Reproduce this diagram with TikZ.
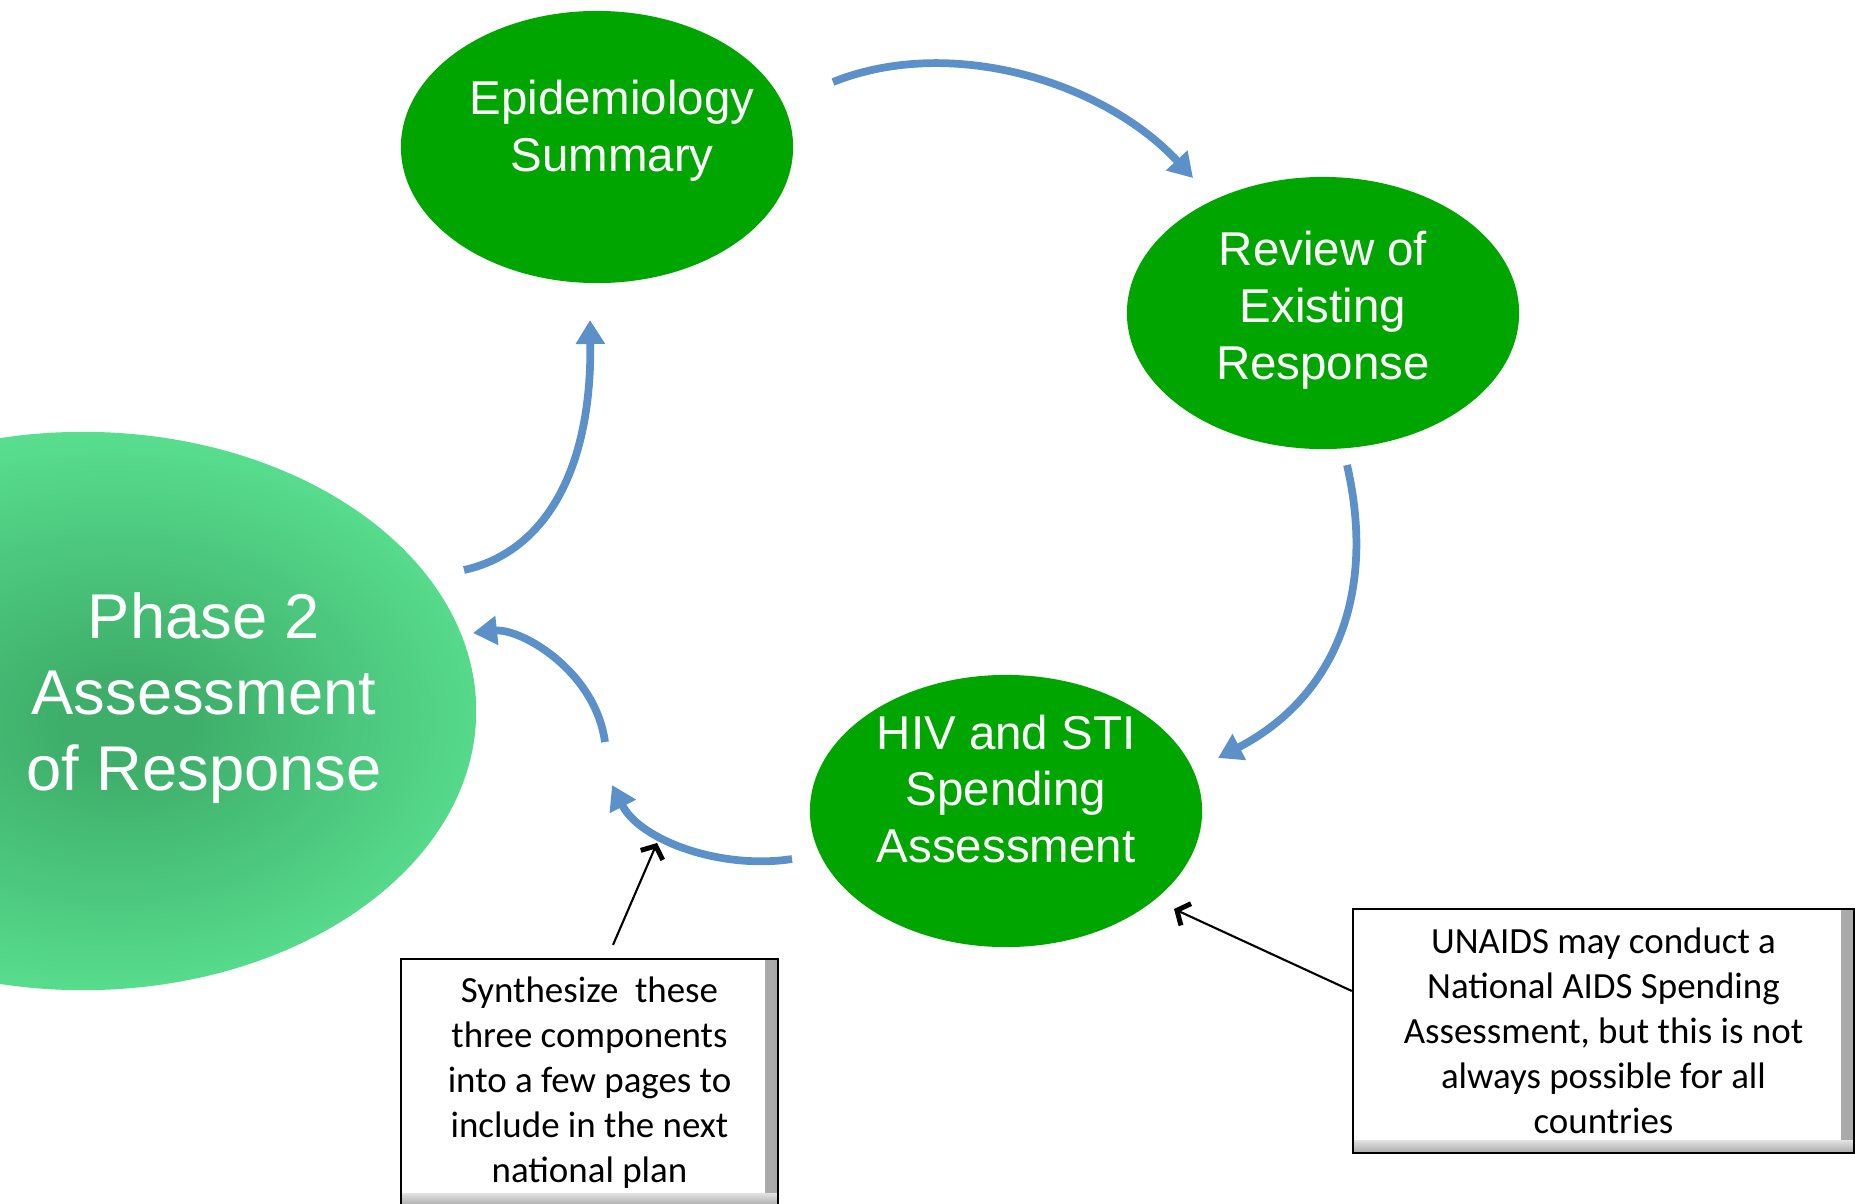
\documentclass[tikz,border=0pt]{standalone}
\usepackage{fontspec}
\setmainfont{Liberation Sans}
\newfontfamily\notefont{Carlito}
\usepackage{tikz}
\usetikzlibrary{shapes, arrows.meta, positioning}

\definecolor{stepgreen}{RGB}{0,165,0}
\definecolor{flowblue}{RGB}{91,144,200}
\definecolor{phlight}{RGB}{94,232,150}
\definecolor{phdark}{RGB}{62,174,106}
\definecolor{boxshade}{RGB}{140,140,140}
\pgfdeclareradialshading{phaseglow}{\pgfpoint{3bp}{-1bp}}{color(0bp)=(phdark); color(4bp)=(phdark); color(30bp)=(phlight); color(50bp)=(phlight)}
\pgfdeclarehorizontalshading{sideshade}{100bp}{color(0bp)=(white); color(100bp)=(boxshade)}
\pgfdeclareverticalshading{baseshade}{100bp}{color(0bp)=(boxshade); color(100bp)=(white)}

\begin{document}
\begin{tikzpicture}[x=0.01cm, y=-0.01cm,
            bubble/.style={ellipse, fill=stepgreen, minimum width=3.92cm, minimum height=2.72cm, inner sep=0pt},
            bubbletext/.style={text=white, align=center, font=\fontsize{13.5}{16.2}\selectfont},
            flow/.style={draw=flowblue, line width=2.2pt, -{Triangle[length=0.24cm, width=0.28cm]}},
            callout/.style={draw=black, line width=0.6pt, -{Straight Barb[length=0.1cm, width=0.24cm, line width=1.4pt]}},
            notebox/.style={draw=black, line width=0.6pt, fill=white, inner sep=0pt, align=center,
                font=\notefont\fontsize{10.5}{12.8}\selectfont,
                path picture={
                    \shade[shading=sideshade]
                        ([xshift=-0.13cm]path picture bounding box.north east) rectangle (path picture bounding box.south east);
                    \shade[shading=baseshade]
                        ([yshift=0.13cm]path picture bounding box.south west) rectangle (path picture bounding box.south east);
                }}]

            \useasboundingbox (0,0) rectangle (1855,1203);
            \clip (0,0) rectangle (1855,1203);

            % phase 2 bubble
            \node[ellipse, shading=phaseglow, minimum width=7.86cm, minimum height=5.58cm, inner sep=0pt] (phase) at (83,711) {};
            \node[text=white, align=center, font=\fontsize{18}{21.6}\selectfont] (phasetext) at (204,698) {Phase 2\\Assessment\\of Response};

            % the three components
            \node[bubble] (epi) at (597,147) {};
            \node[bubble] (review) at (1323,313) {};
            \node[bubble] (hiv) at (1006,811) {};
            \node[bubbletext] (epitext) at (612,131) {Epidemiology\\Summary};
            \node[bubbletext] (reviewtext) at (1323,310) {Review of\\Existing\\Response};
            \node[bubbletext] (hivtext) at (1006,789) {HIV and STI\\Spending\\Assessment};

            \coordinate (epiout) at (833,82);
            \coordinate (revin) at (1193,178);
            \coordinate (revout) at (1347,465);
            \coordinate (hivin) at (1218,758);
            \coordinate (hivout) at (792,859);
            \coordinate (backin) at (612,785);
            \coordinate (backout) at (605,742);
            \coordinate (phasein) at (473,633);
            \coordinate (phaseout) at (464,570);
            \coordinate (epiin) at (590,320);

            \draw[flow] (epiout) .. controls (950,35) and (1103,81) .. (revin);
            \draw[flow] (revout) .. controls (1378,600) and (1330,700) .. (hivin);
            \draw[flow] (hivout) .. controls (720,870) and (640,840) .. (backin);
            \draw[flow] (backout) .. controls (595,670) and (520,628) .. (phasein);
            \draw[flow] (phaseout) .. controls (545,552) and (592,470) .. (epiin);

            % notes
            \node[notebox, minimum width=3.77cm, minimum height=2.47cm] (synnote) at (589.5,1082.5)
                {Synthesize~ these\\three components\\into a few pages to\\include in the next\\national plan};
            \node[notebox, minimum width=5.01cm, minimum height=2.44cm] (nasanote) at (1603.5,1031)
                {UNAIDS may conduct a\\National AIDS Spending\\Assessment, but this is not\\always possible for all\\countries};

            \coordinate (syntip) at (657,843);
            \coordinate (nasatip) at (1174,909);
            \draw[callout] ([xshift=0.235cm, yshift=0.13cm]synnote.north) -- (syntip);
            \draw[callout] ([yshift=0.4cm]nasanote.west) -- (nasatip);
        \end{tikzpicture}
\end{document}
